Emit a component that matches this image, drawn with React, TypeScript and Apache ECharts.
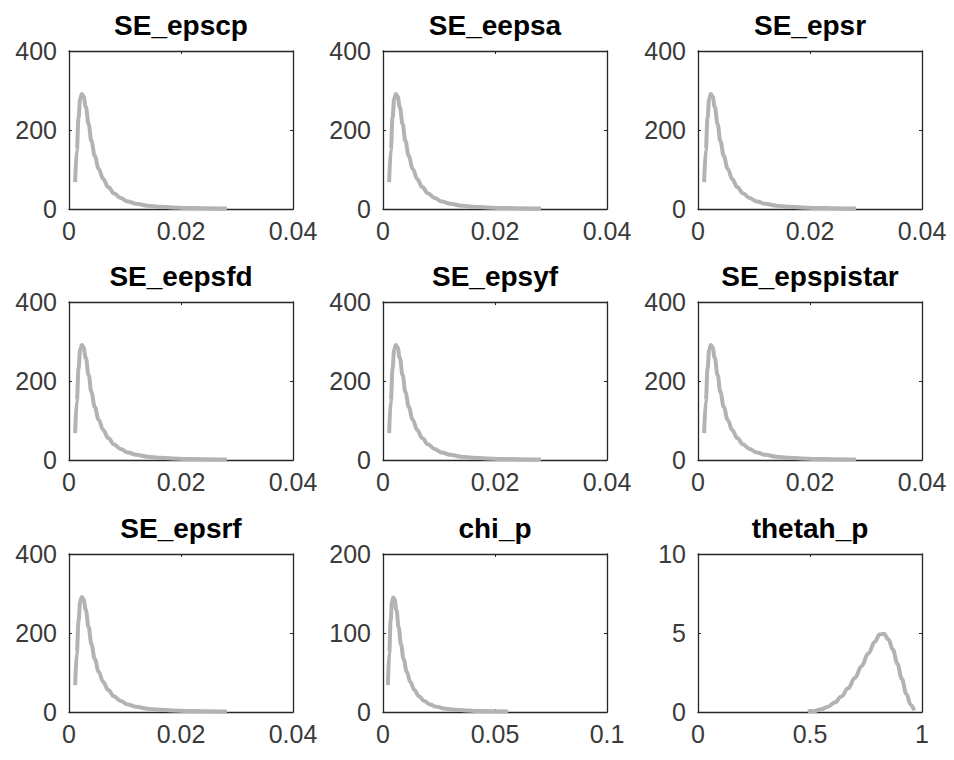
import React, { useEffect, useRef } from "react";
import * as echarts from "echarts";

// Panel titles (row-major, 3x3)
const panelTitles = [
  "SE_epscp", "SE_eepsa", "SE_epsr",
  "SE_eepsfd", "SE_epsyf", "SE_epspistar",
  "SE_epsrf", "chi_p", "thetah_p",
];

// Axis ranges / tick spacing per panel
const xMaxes = [0.04, 0.04, 0.04, 0.04, 0.04, 0.04, 0.04, 0.1, 1];
const xSteps = [0.02, 0.02, 0.02, 0.02, 0.02, 0.02, 0.02, 0.05, 0.5];
const yMaxes = [400, 400, 400, 400, 400, 400, 400, 200, 10];
const ySteps = [200, 200, 200, 200, 200, 200, 200, 100, 5];

// Prior density of the SE_* shocks (all seven panels look identical)
const seX = [0.0011, 0.0014, 0.0017, 0.0020, 0.0023, 0.0026, 0.0030, 0.0035, 0.0040, 0.0046, 0.0053, 0.0061, 0.0070, 0.0080, 0.0092, 0.0105, 0.0120, 0.0140, 0.0160, 0.0185, 0.0210, 0.0240, 0.0282];
const seY = [68, 150, 230, 280, 291, 285, 258, 215, 172, 134, 102, 76, 56, 40, 28, 19, 13, 8.5, 6, 4, 2.8, 2, 1.3];

// chi_p density
const chiX = [0.0022, 0.0028, 0.0034, 0.0040, 0.0046, 0.0052, 0.0060, 0.0070, 0.0080, 0.0092, 0.0106, 0.0122, 0.0140, 0.0160, 0.0184, 0.0210, 0.0240, 0.0280, 0.0320, 0.0370, 0.0420, 0.0480, 0.0558];
const chiY = [34, 75, 115, 140, 145, 142, 129, 107, 86, 67, 51, 38, 28, 20, 14, 9.5, 6.5, 4.2, 3, 2, 1.4, 1, 0.6];

// thetah_p density
const thetaX = [0.49, 0.52, 0.55, 0.58, 0.61, 0.64, 0.67, 0.70, 0.73, 0.76, 0.79, 0.81, 0.83, 0.85, 0.87, 0.89, 0.91, 0.93, 0.95, 0.965];
const thetaY = [0.03, 0.07, 0.17, 0.33, 0.6, 0.98, 1.5, 2.15, 2.9, 3.7, 4.45, 4.9, 4.95, 4.6, 3.95, 3.05, 2.1, 1.15, 0.45, 0.1];

const colLefts = [69, 383, 698];
const rowTops = [51, 302, 554];
const boxW = 224;
const boxH = 158;

const FONT = "'Liberation Sans', Arial, Helvetica, sans-serif";
const AXIS_COLOR = "#262626";
const LABEL_COLOR = "#3a3a3a";

function panelData(i: number): number[][] {
  let xs = seX;
  let ys = seY;
  if (i === 7) { xs = chiX; ys = chiY; }
  if (i === 8) { xs = thetaX; ys = thetaY; }
  return xs.map((x, k) => [x, ys[k]]);
}

export default function App() {
  const ref = useRef<HTMLDivElement>(null);
  useEffect(() => {
    if (!ref.current) return;
    const chart = echarts.init(ref.current, null, { renderer: "svg" });
    const grids: any[] = [];
    const xAxes: any[] = [];
    const yAxes: any[] = [];
    const series: any[] = [];
    const graphics: any[] = [];
    panelTitles.forEach((t, i) => {
      const r = Math.floor(i / 3);
      const c = i % 3;
      const left = colLefts[c];
      const top = rowTops[r];
      grids.push({
        left, top, width: boxW, height: boxH,
        show: true, borderWidth: 0, backgroundColor: "#fff",
        containLabel: false,
      });
      const tick = { show: true, inside: true, length: 3, lineStyle: { color: AXIS_COLOR, width: 1 } };
      const line = { show: true, onZero: false, lineStyle: { color: AXIS_COLOR, width: 1.3 } };
      const lbl = { fontSize: 25, color: LABEL_COLOR, fontFamily: FONT };
      xAxes.push({
        type: "value", gridIndex: i, min: 0, max: xMaxes[i], interval: xSteps[i],
        position: "bottom",
        axisLine: line, axisTick: tick, splitLine: { show: false },
        axisLabel: { ...lbl, margin: 9, showMinLabel: true, showMaxLabel: true },
      });
      xAxes.push({
        type: "value", gridIndex: i, min: 0, max: xMaxes[i], interval: xSteps[i],
        position: "top",
        axisLine: line, axisTick: tick, splitLine: { show: false },
        axisLabel: { show: false },
      });
      yAxes.push({
        type: "value", gridIndex: i, min: 0, max: yMaxes[i], interval: ySteps[i],
        position: "left",
        axisLine: line, axisTick: tick, splitLine: { show: false },
        axisLabel: { ...lbl, margin: 12, showMinLabel: true, showMaxLabel: true },
      });
      yAxes.push({
        type: "value", gridIndex: i, min: 0, max: yMaxes[i], interval: ySteps[i],
        position: "right",
        axisLine: line, axisTick: tick, splitLine: { show: false },
        axisLabel: { show: false },
      });
      series.push({
        type: "line",
        xAxisIndex: i * 2,
        yAxisIndex: i * 2,
        data: panelData(i),
        showSymbol: false,
        smooth: 0.4,
        smoothMonotone: "x",
        lineStyle: { color: "#b3b3b3", width: 4 },
        silent: true,
      });
      graphics.push({
        type: "text",
        x: left + boxW / 2,
        y: top - 26,
        style: {
          text: t,
          align: "center",
          verticalAlign: "middle",
          fontSize: 28,
          fontWeight: "bold",
          fontFamily: FONT,
          fill: "#000",
        },
      });
    });
    chart.setOption({
      animation: false,
      backgroundColor: "#fff",
      grid: grids,
      xAxis: xAxes,
      yAxis: yAxes,
      series,
      graphic: graphics,
    });
    return () => chart.dispose();
  }, []);
  return (
    <div
      ref={ref}
      style={{ position: "absolute", left: 0, top: 0, width: 954, height: 760, background: "#fff" }}
    />
  );
}
